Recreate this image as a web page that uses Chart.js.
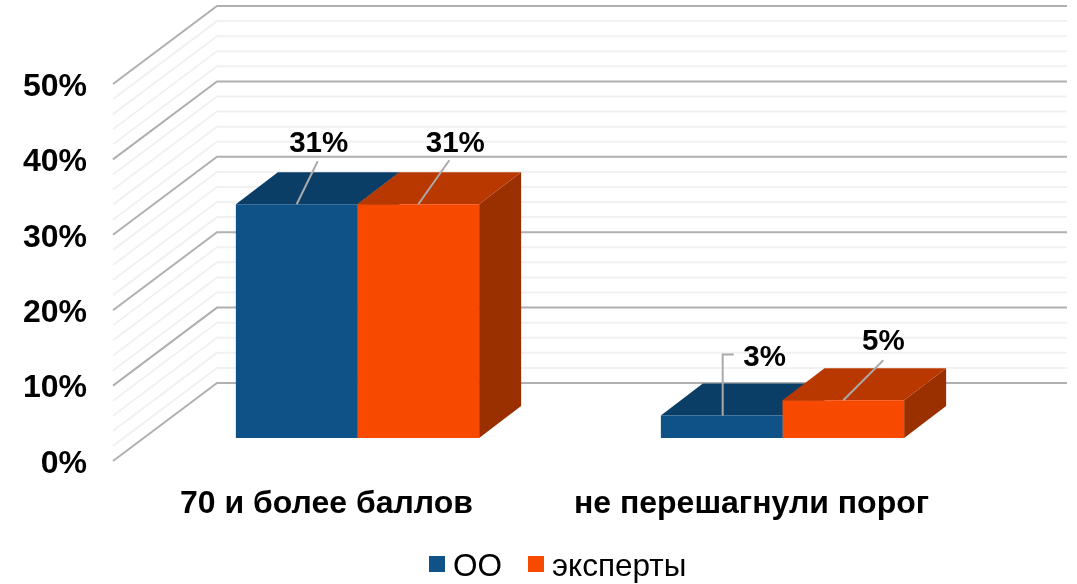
<!DOCTYPE html>
<html>
<head>
<meta charset="UTF-8">
<title>chart</title>
<style>
	html, body {margin: 0; padding: 0; background: #ffffff}
	canvas {display: block}
</style>
</head>
<body>
	<canvas id="myChart" width="1077" height="584"></canvas>
<script src="https://cdn.jsdelivr.net/npm/chart.js@4"></script>
<script>
	// 데이터
	const categories = ['70 и более баллов', 'не перешагнули порог'];
	const seriesNames = ['ОО', 'эксперты'];
	const valuesOO = [31, 3];
	const valuesExperts = [31, 5];

	// 색상 (앞면, 윗면, 옆면)
	const frontColors = ['#0e5287', '#f84900'];
	const topColors = ['#0b3e66', '#b93800'];
	const sideColors = ['#0a3658', '#9a2f00'];
	const fontName = '"Liberation Sans", Arial, sans-serif';

	// 3D 오프셋
	const wallFront = {x: -32, y: 23};
	const wallBack = {x: 72, y: -55};
	const barDepth = {x: 42, y: -32};

	function poly(ctx, pts, color) {
		ctx.fillStyle = color;
		ctx.beginPath();
		pts.forEach(function(p, i) {
			if (i == 0) ctx.moveTo(p[0], p[1]);
			else ctx.lineTo(p[0], p[1]);
		});
		ctx.closePath();
		ctx.fill();
	}

	// 벽면 눈금선 + 막대 윗면/옆면
	const depthPlugin = {
		id: 'depth',
		beforeDatasetsDraw(chart) {
			const ctx = chart.ctx;
			const y = chart.scales.y;
			const area = chart.chartArea;
			ctx.save();
			y.ticks.forEach(function(t) {
				const py = y.getPixelForValue(t.value);
				ctx.strokeStyle = t.value % 10 == 0 ? '#b0b0b0' : '#f1f1f1';
				ctx.lineWidth = 2;
				ctx.beginPath();
				ctx.moveTo(area.left + wallFront.x, py + wallFront.y);
				ctx.lineTo(area.left + wallBack.x, py + wallBack.y);
				ctx.lineTo(area.right + wallBack.x, py + wallBack.y);
				ctx.stroke();
			});
			chart.data.datasets.forEach(function(ds, d) {
				chart.getDatasetMeta(d).data.forEach(function(bar) {
					const l = bar.x - bar.width / 2, r = bar.x + bar.width / 2;
					const dx = barDepth.x, dy = barDepth.y;
					poly(ctx, [[r, bar.y], [r + dx, bar.y + dy], [r + dx, bar.base + dy], [r, bar.base]], sideColors[d]);
					poly(ctx, [[l, bar.y], [l + dx, bar.y + dy], [r + dx, bar.y + dy], [r, bar.y]], topColors[d]);
				});
			});
			ctx.restore();
		}
	};

	// 데이터 라벨 위치 (막대 윗변 중앙 기준) + 지시선
	const labelSpots = [
		[{x: 22, y: -60, line: [[0, 0], [21, -43]]}, {x: 37, y: -60, line: [[0, 0], [31, -44]]}],
		[{x: 43, y: -58, line: [[1, 0], [1, -61], [12, -61]]}, {x: 40, y: -58, line: [[0, 0], [40, -40]]}]
	];

	const labelPlugin = {
		id: 'barLabels',
		afterDatasetsDraw(chart) {
			const ctx = chart.ctx;
			ctx.save();
			chart.data.datasets.forEach(function(ds, d) {
				chart.getDatasetMeta(d).data.forEach(function(bar, i) {
					const spot = labelSpots[i][d];
					ctx.strokeStyle = '#aaaaaa';
					ctx.lineWidth = 2;
					ctx.beginPath();
					spot.line.forEach(function(p, k) {
						if (k == 0) ctx.moveTo(bar.x + p[0], bar.y + p[1]);
						else ctx.lineTo(bar.x + p[0], bar.y + p[1]);
					});
					ctx.stroke();
					ctx.fillStyle = '#000000';
					ctx.font = 'bold 29.5px ' + fontName;
					ctx.textAlign = 'center';
					ctx.textBaseline = 'middle';
					ctx.fillText(ds.data[i] + '%', bar.x + spot.x, bar.y + spot.y);
				});
			});
			ctx.restore();
		}
	};

	// 범례
	const legendPlugin = {
		id: 'bottomLegend',
		afterDraw(chart) {
			const ctx = chart.ctx;
			const boxX = [429, 528];
			ctx.save();
			ctx.font = '31.5px ' + fontName;
			ctx.textAlign = 'left';
			ctx.textBaseline = 'middle';
			chart.data.datasets.forEach(function(ds, d) {
				ctx.fillStyle = frontColors[d];
				ctx.fillRect(boxX[d], 556, 16, 16);
				ctx.fillStyle = '#000000';
				ctx.fillText(ds.label, boxX[d] + 24, 567);
			});
			ctx.restore();
		}
	};

	new Chart(document.getElementById('myChart'), {
		type: 'bar',
		data: {
			labels: categories,
			datasets: [
				{label: seriesNames[0], data: valuesOO, backgroundColor: frontColors[0]},
				{label: seriesNames[1], data: valuesExperts, backgroundColor: frontColors[1]}
			]
		},
		options: {
			responsive: false,
			animation: false,
			layout: {padding: {top: 61, right: 82, left: 0, bottom: 0}},
			datasets: {bar: {barPercentage: 1, categoryPercentage: 0.5724}},
			plugins: {legend: {display: false}, tooltip: {enabled: false}},
			scales: {
				x: {
					grid: {display: false, drawTicks: false},
					border: {display: false},
					ticks: {
						color: '#000000',
						padding: 47,
						labelOffset: -31,
						maxRotation: 0,
						font: {family: fontName, size: 32, weight: 'bold'}
					},
					afterFit(scale) { scale.height = 146; }
				},
				y: {
					min: 0,
					max: 50,
					grid: {display: false, drawTicks: false},
					border: {display: false},
					ticks: {
						stepSize: 2,
						autoSkip: false,
						color: '#000000',
						padding: 58,
						labelOffset: 26,
						font: {family: fontName, size: 32, weight: 'bold'},
						callback: function(v) { return v % 10 == 0 ? v + '%' : ''; }
					},
					afterFit(scale) {
						scale.width = 145;
						scale.paddingTop = 0;
						scale.paddingBottom = 0;
					}
				}
			}
		},
		plugins: [depthPlugin, labelPlugin, legendPlugin]
	});
</script>
</body>
</html>
